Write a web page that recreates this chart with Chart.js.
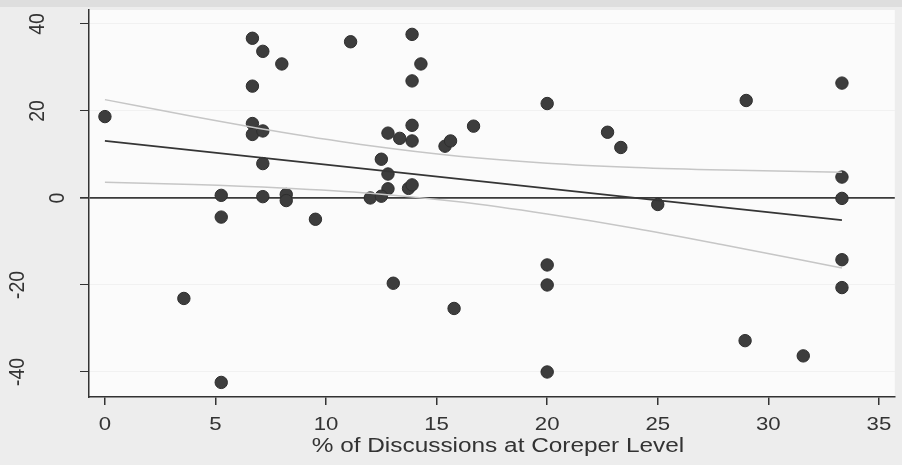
<!DOCTYPE html>
<html>
<head>
<meta charset="utf-8">
<title>Coreper discussions scatter</title>
<script src="https://cdn.jsdelivr.net/npm/chart.js@4.4.1/dist/chart.umd.min.js"></script>
<style>
  html, body { margin: 0; padding: 0; background: #ededed; }
  #wrap { width: 902px; height: 465px; position: relative; }
</style>
</head>
<body>
<div id="wrap"><canvas id="chart"></canvas></div>
<script>
// % of discussions handled at Coreper level, and the outcome for each case
const pctCoreper = [
  0, 6.67, 7.14, 8.0, 6.67, 6.67, 6.67, 7.14, 7.14, 5.26,
  5.26, 7.14, 8.2, 8.2, 9.52, 11.11, 13.89, 14.29, 13.89, 13.89,
  12.8, 13.33, 13.89, 15.38, 15.63, 16.67, 20.0, 22.73, 23.33, 12.5,
  12.8, 12.8, 12.0, 12.5, 13.73, 13.89, 29.0, 33.33, 33.33, 33.33,
  25.0, 3.57, 5.26, 13.04, 15.79, 20.0, 20.0, 20.0, 33.33, 33.33,
  28.95, 31.58
];
const outcome = [
  18.7, 36.7, 33.7, 30.8, 25.7, 17.1, 14.6, 15.4, 7.9, 0.6,
  -4.4, 0.3, 0.8, -0.6, -4.9, 35.9, 37.6, 30.8, 26.9, 16.7,
  14.9, 13.7, 13.1, 11.9, 13.1, 16.5, 21.7, 15.1, 11.6, 8.9,
  5.5, 2.1, 0.0, 0.4, 2.2, 3.0, 22.4, 26.4, 4.8, -0.1,
  -1.5, -23.1, -42.4, -19.6, -25.4, -15.4, -20.0, -40.0, -14.2, -20.6,
  -32.8, -36.3
];

// fitted line and its confidence band
const fitX = [0, 33.33];
const fitY = [13.1, -5.1];
const ciX = [0, 4, 8, 12, 16, 20, 24, 28, 33.33];
const ciUpper = [22.6, 18.7, 15.1, 12.0, 9.6, 8.0, 7.0, 6.4, 5.9];
const ciLower = [3.6, 3.1, 2.3, 1.1, -0.9, -3.7, -7.0, -10.8, -16.1];

const xTicks = [0, 5, 10, 15, 20, 25, 30, 35];
const yTicks = [-40, -20, 0, 20, 40];
const xTitle = '% of Discussions at Coreper Level';

const INK = '#333333';
const FONT = '"Liberation Sans", Arial, sans-serif';

const toPts = (xs, ys) => xs.map((x, i) => ({ x, y: ys[i] }));

// page tone, top strip and the lighter plot panel
const panelBg = {
  id: 'panelBg',
  beforeDraw(chart) {
    const { ctx, chartArea: a, width, height } = chart;
    ctx.save();
    ctx.fillStyle = '#ededed';
    ctx.fillRect(0, 0, width, height);
    ctx.fillStyle = '#dedede';
    ctx.fillRect(0, 0, width, 7);
    ctx.fillStyle = '#fbfbfb';
    ctx.fillRect(a.left, a.top, a.right - a.left, a.bottom - a.top);
    ctx.restore();
  }
};

// wide-set text helper (glyphs stretched sideways a little)
function wideText(ctx, txt, x, y, sx) {
  ctx.save();
  ctx.translate(x, y);
  ctx.scale(sx, 1);
  ctx.fillText(txt, 0, 0);
  ctx.restore();
}

// axis labels: x ticks, x title and upward-reading y ticks
const axisText = {
  id: 'axisText',
  afterDraw(chart) {
    const { ctx } = chart;
    const xs = chart.scales.x;
    const ys = chart.scales.y;
    ctx.save();
    ctx.fillStyle = INK;
    ctx.textAlign = 'center';
    ctx.textBaseline = 'middle';

    ctx.font = '18.5px ' + FONT;
    xTicks.forEach(v => wideText(ctx, String(v), xs.getPixelForValue(v), 425, 1.2));

    ctx.font = '19.5px ' + FONT;
    wideText(ctx, xTitle, 498, 447, 1.25);

    ctx.font = '19.5px ' + FONT;
    yTicks.forEach(v => {
      const txt = String(v);
      const cx = 78 - 20 * txt.length;
      ctx.save();
      ctx.translate(cx, ys.getPixelForValue(v));
      ctx.rotate(-Math.PI / 2);
      ctx.scale(1, 1.12);
      ctx.fillText(txt, 0, 0);
      ctx.restore();
    });
    ctx.restore();
  }
};

new Chart(document.getElementById('chart'), {
  type: 'scatter',
  data: {
    datasets: [
      {
        label: 'upper',
        type: 'line',
        data: toPts(ciX, ciUpper),
        borderColor: '#c6c6c6',
        borderWidth: 1.5,
        pointRadius: 0,
        cubicInterpolationMode: 'monotone',
        fill: false
      },
      {
        label: 'lower',
        type: 'line',
        data: toPts(ciX, ciLower),
        borderColor: '#c6c6c6',
        borderWidth: 1.5,
        pointRadius: 0,
        cubicInterpolationMode: 'monotone',
        fill: false
      },
      {
        label: 'fit',
        type: 'line',
        data: toPts(fitX, fitY),
        borderColor: '#353535',
        borderWidth: 1.8,
        pointRadius: 0,
        fill: false
      },
      {
        label: 'cases',
        data: toPts(pctCoreper, outcome),
        backgroundColor: '#3d3d3d',
        borderColor: '#2e2e2e',
        borderWidth: 1,
        pointRadius: 6.2,
        pointHoverRadius: 6.2
      }
    ]
  },
  options: {
    responsive: true,
    maintainAspectRatio: false,
    animation: false,
    layout: { padding: { top: 10, right: 0, left: 0, bottom: 0 } },
    plugins: {
      legend: { display: false },
      tooltip: { enabled: false }
    },
    scales: {
      x: {
        type: 'linear',
        min: -0.72,
        max: 35.72,
        afterBuildTicks: s => { s.ticks = xTicks.map(v => ({ value: v })); },
        afterFit: s => { s.height = 68; },
        border: { display: true, color: INK, width: 1.5 },
        grid: { drawOnChartArea: false, drawTicks: true, tickLength: 8, color: INK, lineWidth: 1.5 },
        ticks: { display: false }
      },
      y: {
        type: 'linear',
        min: -45.75,
        max: 43.2,
        afterBuildTicks: s => { s.ticks = yTicks.map(v => ({ value: v })); },
        afterFit: s => { s.width = 89; },
        border: { display: true, color: INK, width: 1.5 },
        grid: {
          drawTicks: true,
          tickLength: 9,
          tickColor: INK,
          color: ctx => ctx.tick && ctx.tick.value === 0 ? '#3a3a3a' : 'rgba(0,0,0,0.04)',
          lineWidth: ctx => ctx.tick && ctx.tick.value === 0 ? 1.7 : 1
        },
        ticks: { display: false }
      }
    }
  },
  plugins: [panelBg, axisText]
});
</script>
</body>
</html>
